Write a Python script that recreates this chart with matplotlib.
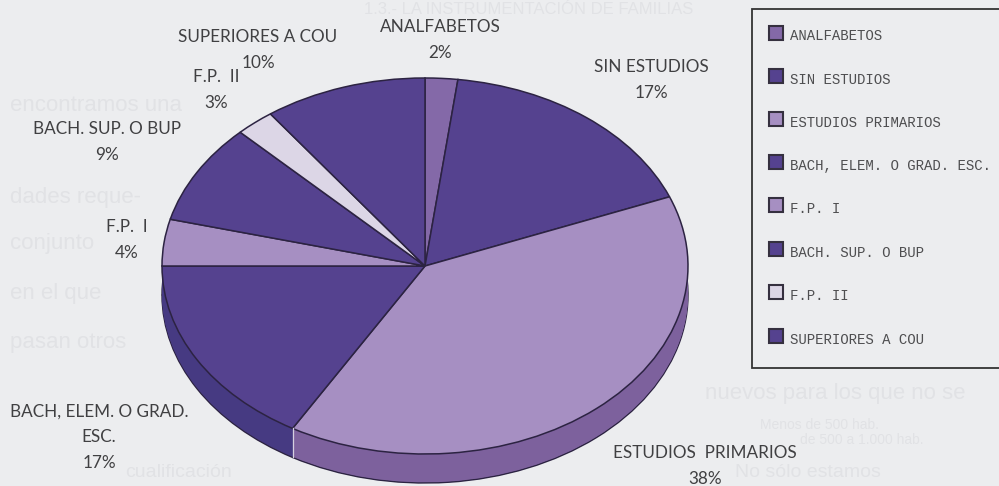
import numpy as np
import matplotlib
matplotlib.use("Agg")
import matplotlib.pyplot as plt
from matplotlib.patches import Rectangle

categories = ["ANALFABETOS", "SIN ESTUDIOS", "ESTUDIOS PRIMARIOS",
              "BACH, ELEM. O GRAD. ESC.", "F.P. I", "BACH. SUP. O BUP",
              "F.P. II", "SUPERIORES A COU"]
# slice sizes as drawn in the picture, the printed labels are rounded differently
shares = [2.0, 17.0, 39.4, 16.6, 4.0, 8.6, 2.4, 10.0]
printed = ["2%", "17%", "38%", "17%", "4%", "9%", "3%", "10%"]

top_colors = ["#8469a8", "#55428f", "#a68fc2", "#55428f",
              "#a68fc2", "#55428f", "#dcd6e6", "#55428f"]
side_colors = ["#6f5596", "#463a82", "#7d619d", "#463a82",
               "#7d619d", "#463a82", "#b5aac6", "#463a82"]
edge = "#2c2342"
text_color = "#404042"
paper = "#ecedef"
ghost = "#e1e2e5"

W, H = 999, 486
CX, CY, RX, RY, DEPTH = 425, 266, 263, 188, 29

# where the slice labels sit, one block of lines for each category (pixels)
label_pos = [(440, 27), (651, 67), (705, 453), (99, 412),
             (127, 227), (107, 129), (216, 77), (258, 37)]
label_lines = [["ANALFABETOS"], ["SIN ESTUDIOS"], ["ESTUDIOS  PRIMARIOS"],
               ["BACH, ELEM. O GRAD.", "ESC."], ["F.P.  I"],
               ["BACH. SUP. O BUP"], ["F.P.  II"], ["SUPERIORES A COU"]]

# show-through from the other side of the scanned page, only where it is free
ghost_lines = [(364, 10, "1.3.- LA INSTRUMENTACIÓN DE FAMILIAS", 12),
               (10, 105, "encontramos una", 16),
               (10, 197, "dades reque-", 16),
               (10, 243, "conjunto", 16),
               (10, 293, "en el que", 16),
               (10, 342, "pasan otros", 16),
               (705, 393, "nuevos para los que no se", 16),
               (760, 425, "Menos de 500 hab.", 10),
               (800, 440, "de 500 a 1.000 hab.", 10),
               (125, 472, "cualificación", 14),
               (735, 472, "No sólo estamos", 14)]

fig = plt.figure(figsize=(W / 100, H / 100), dpi=100, facecolor=paper)

page = fig.add_axes([0, 0, 1, 1], zorder=0)
page.set_xlim(0, W)
page.set_ylim(H, 0)
page.axis("off")

for x, y, s, size in ghost_lines:
    page.text(x, y, s, family="Liberation Sans", fontsize=size, color=ghost,
              va="center", ha="left", clip_on=True)

for (x, y), lines, pct in zip(label_pos, label_lines, printed):
    for i, line in enumerate(lines):
        page.text(x, y + i * 25, line, family="Lato", fontsize=12.3,
                  color=text_color, ha="center", va="center")
    page.text(x, y + len(lines) * 25.5, pct, family="Lato", fontsize=12.3,
              color=text_color, ha="center", va="center")

# legend box runs off the right edge of the scan
page.add_patch(Rectangle((752, 9), 260, 359, fc=paper, ec="#333333", lw=1.3,
                         zorder=2))
legend_y = [33, 76, 119, 162, 205, 249, 292, 336]
for y, name, color in zip(legend_y, categories, top_colors):
    page.add_patch(Rectangle((768.5, y - 7), 14, 14, fc=color, ec="#35303f",
                             lw=1.5, zorder=3))
    page.text(790, y + 3.5, name, family="Liberation Mono", fontsize=10.1,
              color="#4e4e50", va="center", ha="left", zorder=3)

# the pie lives in its own axes, stretched so the circle becomes the ellipse
ax = fig.add_axes([0, 0, 1, 1], zorder=1)
ax.patch.set_alpha(0)

dz = DEPTH / RY
layers = np.linspace(dz, 0, DEPTH + 1)
for i, z in enumerate(layers[:-1]):
    ax.pie(shares, colors=side_colors, startangle=90, counterclock=False,
           center=(0, -z), radius=1,
           wedgeprops={"edgecolor": edge if i == 0 else "none", "linewidth": 1.0})

ax.pie(shares, colors=top_colors, startangle=90, counterclock=False,
       wedgeprops={"edgecolor": edge, "linewidth": 1.1})

# seam on the rim where the two front slices meet
front = 2 * np.pi * np.cumsum(shares)[2] / np.sum(shares)
sx, sy = np.sin(front), np.cos(front)
ax.plot([sx, sx], [sy, sy - dz], color="#d5d0e0", lw=0.9)

ax.set_aspect("auto")
ax.set_xlim((0 - CX) / RX, (W - CX) / RX)
ax.set_ylim((CY - H) / RY, CY / RY)
ax.axis("off")

fig.savefig("out.png", dpi=100, facecolor=paper)
